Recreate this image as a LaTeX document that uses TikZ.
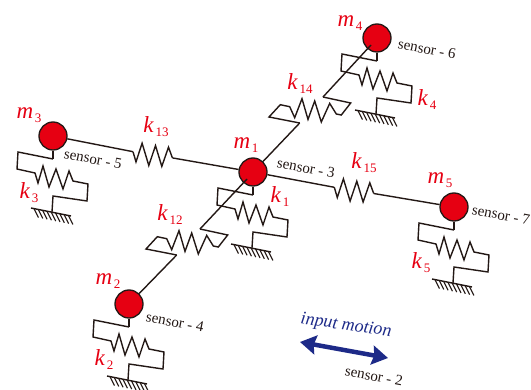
\documentclass[tikz,border=0pt]{standalone}
\usepackage{fontspec}
\setmainfont{Liberation Serif}
\usepackage{tikz}
\usetikzlibrary{arrows.meta}
\definecolor{massred}{RGB}{230,0,18}
\definecolor{inkblack}{RGB}{35,24,21}
\definecolor{motionblue}{RGB}{29,42,136}
\newcommand{\symlab}[2]{\textit{#1}\kern1.5pt\raisebox{-4pt}{\fontsize{13}{13}\selectfont #2}}
\tikzset{
	groundspring/.pic={
		\coordinate (-top) at (0,23);
		\coordinate (-foot) at (-1,76);
		\draw[wire] (-top) -- (-35,16) -- (-36,33) -- (-18,37) -- (-15,47) -- (-10,30) -- (-4,51) -- (3,33) -- (10,53) -- (16,35) -- (20,45) -- (35,48) -- (34,65) -- (0,60) -- (-foot);
		\draw[wire] (-22,72) -- (18,80);
		\foreach \i in {0,...,8} {
			\draw[hatchline] (-19+4.3*\i,72.6+0.86*\i) -- ++(4.5,9);
		}
	},
	diagspring/.pic={
		\coordinate (-in) at (0,0);
		\coordinate (-out) at (-23.3,26);
		\draw[wire] (-in) -- (27.7,6) -- (18.3,18) -- (13.3,17) -- (6.7,6.4) -- (-1.7,25) -- (-8.3,4) -- (-15,22.4) -- (-21,1.7) -- (-28.3,20.7) -- (-33.3,9.7) -- (-42.7,7.7) -- (-54,20) -- (-out);
	},
	flatspring/.pic={
		\coordinate (-in) at (0,0);
		\coordinate (-out) at (39.4,6.2);
		\draw[wire] (-in) -- (3,10.2) -- (9.1,-8.5) -- (15.8,13.8) -- (22.5,-6.1) -- (28.8,14.7) -- (35.5,-4.5) -- (-out);
	}
}
\tikzstyle{mass}=[circle,draw=inkblack,fill=massred,line width=1.3pt,minimum size=28pt,inner sep=0pt]
\tikzstyle{wire}=[draw=inkblack,line width=1.4pt,line join=miter]
\tikzstyle{hatchline}=[draw=inkblack,line width=1.1pt]
\tikzstyle{redlab}=[text=massred,font=\fontsize{23}{23}\selectfont,inner sep=0pt]
\tikzstyle{sensorlab}=[text=inkblack,font=\fontsize{15}{15}\selectfont,rotate=-11,inner sep=0pt]
\begin{document}
\begin{tikzpicture}[x=1pt,y=-1pt]
	\useasboundingbox (0,0) rectangle (531,390);
	\node[mass] (m1) at (253,172) {};
	\node[mass] (m2) at (129,304) {};
	\node[mass] (m3) at (53,136) {};
	\node[mass] (m4) at (377,38) {};
	\node[mass] (m5) at (454,207) {};
	\coordinate (in1) at (247,179);
	\coordinate (in4) at (371,45);
	\pic (gs1) at (m1) {groundspring};
	\pic (gs2) at (m2) {groundspring};
	\pic (gs3) at (m3) {groundspring};
	\pic (gs4) at (m4) {groundspring};
	\pic (gs5) at (m5) {groundspring};
	\pic (ks12) at (200,229) {diagspring};
	\pic (ks14) at (323,97) {diagspring};
	\pic (ks13) at (133,151.7) {flatspring};
	\pic (ks15) at (334.3,187.3) {flatspring};
	\draw[wire] (m1) -- (gs1-top);
	\draw[wire] (m2) -- (gs2-top);
	\draw[wire] (m3) -- (gs3-top);
	\draw[wire] (m4) -- (gs4-top);
	\draw[wire] (m5) -- (gs5-top);
	\draw[wire] (in1) -- (ks12-in);
	\draw[wire] (ks12-out) -- (m2);
	\draw[wire] (in4) -- (ks14-in);
	\draw[wire] (ks14-out) -- (m1);
	\draw[wire] (m3) -- (ks13-in);
	\draw[wire] (ks13-out) -- (m1);
	\draw[wire] (m1) -- (ks15-in);
	\draw[wire] (ks15-out) -- (m5);
	\node[redlab] (lm1) at (246,145) {\symlab{m}{1}};
	\node[redlab] (lm2) at (108,281) {\symlab{m}{2}};
	\node[redlab] (lm3) at (29,115) {\symlab{m}{3}};
	\node[redlab] (lm4) at (350,23) {\symlab{m}{4}};
	\node[redlab] (lm5) at (440,180) {\symlab{m}{5}};
	\node[redlab] (lk1) at (280,197) {\symlab{k}{1}};
	\node[redlab] (lk2) at (104,360) {\symlab{k}{2}};
	\node[redlab] (lk3) at (29,193) {\symlab{k}{3}};
	\node[redlab] (lk4) at (427,100) {\symlab{k}{4}};
	\node[redlab] (lk5) at (421,263) {\symlab{k}{5}};
	\node[redlab] (lk12) at (170,215) {\symlab{k}{12}};
	\node[redlab] (lk13) at (156,127) {\symlab{k}{13}};
	\node[redlab] (lk14) at (300,84) {\symlab{k}{14}};
	\node[redlab] (lk15) at (364,163) {\symlab{k}{15}};
	\node[sensorlab] (s2) at (374,376) {sensor - 2};
	\node[sensorlab] (s3) at (306,168) {sensor - 3};
	\node[sensorlab] (s4) at (175,322) {sensor - 4};
	\node[sensorlab] (s5) at (93,159) {sensor - 5};
	\node[sensorlab] (s6) at (427,49) {sensor - 6};
	\node[sensorlab] (s7) at (501,215) {sensor - 7};
	\coordinate (motionl) at (300,342);
	\coordinate (motionr) at (388,358);
	\draw[draw=motionblue,line width=4.5pt,{Stealth[length=16pt,width=19pt,inset=2pt]}-{Stealth[length=16pt,width=19pt,inset=2pt]}] (motionl) -- (motionr);
	\node[text=motionblue,font=\fontsize{18}{18}\selectfont\itshape,rotate=-8,inner sep=0pt] (motion) at (346,326) {input motion};
\end{tikzpicture}
\end{document}
